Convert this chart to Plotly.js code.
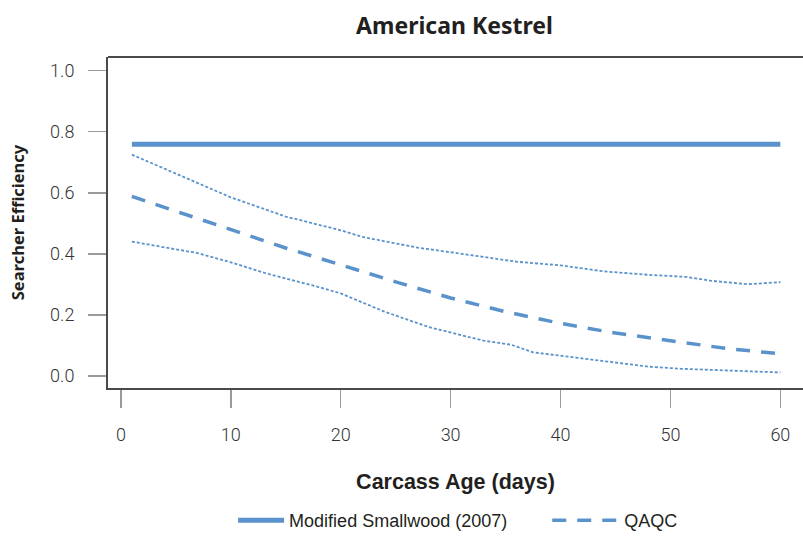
<!DOCTYPE html>
<html>
<head>
<meta charset="utf-8">
<script src="https://cdn.plot.ly/plotly-3.0.1.min.js"></script>
<style>html,body{margin:0;padding:0;background:#fff;}#chart{width:803px;height:539px;}</style>
</head>
<body>
<div id="chart"></div>
<script>
// Data
var chartTitle = "American Kestrel";
var xTitle = "Carcass Age (days)";
var yTitle = "Searcher Efficiency";

var smallwoodX = [1, 60];
var smallwoodY = [0.759, 0.759];

var qaqcX = [1, 5, 10, 15, 20, 25, 30, 35, 40, 45, 50, 55, 60];
var qaqcY = [0.588, 0.540, 0.477, 0.419, 0.364, 0.308, 0.255, 0.210, 0.172, 0.140, 0.115, 0.090, 0.072];

var upperX = [1, 7, 10, 15, 20, 22, 27, 31, 36, 40, 44, 48, 51.5, 53.6, 57, 60];
var upperY = [0.725, 0.630, 0.585, 0.522, 0.477, 0.455, 0.420, 0.400, 0.374, 0.362, 0.342, 0.331, 0.324, 0.312, 0.300, 0.307];

var lowerX = [1, 7, 10, 13, 18, 20, 24, 28, 33, 35.5, 37.5, 41, 44, 48, 51, 55, 60];
var lowerY = [0.440, 0.402, 0.372, 0.338, 0.291, 0.270, 0.210, 0.160, 0.115, 0.102, 0.077, 0.061, 0.046, 0.030, 0.023, 0.017, 0.011];

var xTicks = [0, 10, 20, 30, 40, 50, 60];
var yTicks = [0.0, 0.2, 0.4, 0.6, 0.8, 1.0];
var yTickText = ["0.0", "0.2", "0.4", "0.6", "0.8", "1.0"];

var blue = "#5a92cc";
var narrow = "Roboto, Liberation Sans Narrow, sans-serif";
var legendFont = {family: "Arial, Liberation Sans, sans-serif", size: 18, color: "#231f20"};

var traces = [
  {x: upperX, y: upperY, mode: "lines", showlegend: false, hoverinfo: "skip",
   line: {color: blue, width: 1.8, dash: "3px,2px"}},
  {x: lowerX, y: lowerY, mode: "lines", showlegend: false, hoverinfo: "skip",
   line: {color: blue, width: 1.8, dash: "3px,2px"}},
  {x: smallwoodX, y: smallwoodY, mode: "lines", name: "Modified Smallwood (2007)", legend: "legend",
   line: {color: blue, width: 5}},
  {x: qaqcX, y: qaqcY, mode: "lines", name: "QAQC", legend: "legend2",
   line: {color: blue, width: 3.5, dash: "14px,11px"}}
];

var layout = {
  width: 803, height: 539,
  margin: {l: 108, r: 0, t: 57, b: 151},
  paper_bgcolor: "#fff", plot_bgcolor: "#fff",
  title: {text: "<b>" + chartTitle + "</b>", x: 0.566, xanchor: "center", y: 0.951, yanchor: "middle",
          font: {family: "Noto Sans, Open Sans, sans-serif", size: 23, color: "#231f20"}},
  xaxis: {
    range: [-1.17, 62.06], tickvals: xTicks, ticktext: xTicks.map(String),
    showgrid: false, zeroline: false, showline: true, linecolor: "#4a4a4a", linewidth: 2,
    ticks: "outside", ticklen: 18, tickwidth: 1.5, tickcolor: "#9a9a9a",
    ticklabelstandoff: 11,
    tickfont: {family: narrow, size: 18, weight: 300, color: "#333"},
    title: {text: "<b>" + xTitle + "</b>", standoff: 30,
            font: {family: "Arial, Liberation Sans, sans-serif", size: 21.5, color: "#231f20"}}
  },
  yaxis: {
    range: [-0.040, 1.045], tickvals: yTicks, ticktext: yTickText,
    showgrid: false, zeroline: false, showline: true, linecolor: "#4a4a4a", linewidth: 2,
    ticks: "outside", ticklen: 18, tickwidth: 1.5, tickcolor: "#9a9a9a",
    ticklabelstandoff: 10,
    tickfont: {family: narrow, size: 18, weight: 300, color: "#333"},
    title: {text: "<b>" + yTitle + "</b>", standoff: 21,
            font: {family: "Noto Sans, Open Sans, sans-serif", size: 16.5, color: "#231f20"}}
  },
  shapes: [
    {type: "line", xref: "paper", yref: "paper", x0: 0, x1: 1.01, y0: 1, y1: 1,
     line: {color: "#4a4a4a", width: 2}}
  ],
  legend: {
    orientation: "h", x: 0.180, xanchor: "left", y: -0.402, yanchor: "middle",
    font: legendFont, itemwidth: 46, bgcolor: "rgba(0,0,0,0)"
  },
  legend2: {
    orientation: "h", x: 0.632, xanchor: "left", y: -0.402, yanchor: "middle",
    font: legendFont, itemwidth: 67, bgcolor: "rgba(0,0,0,0)"
  },
  showlegend: true
};

Plotly.newPlot("chart", traces, layout, {displayModeBar: false, staticPlot: true});
</script>
</body>
</html>
